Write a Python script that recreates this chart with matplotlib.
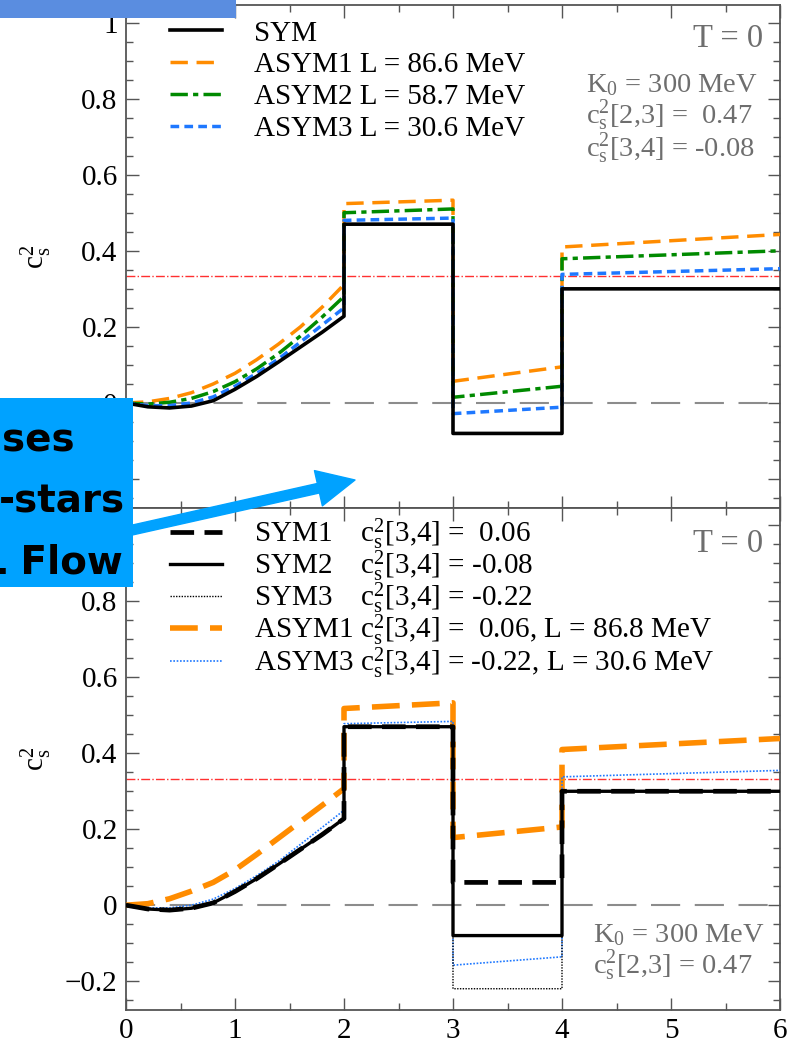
import matplotlib
matplotlib.use('Agg')
import matplotlib.pyplot as plt
from matplotlib.patches import Rectangle, FancyArrowPatch
from matplotlib.ticker import MultipleLocator, FuncFormatter

plt.rcParams['font.family'] = ['Liberation Serif', 'DejaVu Serif']
plt.rcParams['mathtext.fontset'] = 'custom'
plt.rcParams['mathtext.rm'] = 'Liberation Serif'
plt.rcParams['mathtext.it'] = 'Liberation Serif:italic'

# ---- data ----
x_soft = [0, 0.2, 0.4, 0.6, 0.8, 1.0, 1.2, 1.4, 1.6, 1.8, 2.0]
x_steps = [2, 3, 3, 4, 4, 6]

# top panel
sym_soft = [0, -0.010, -0.013, -0.008, 0.006, 0.036, 0.070, 0.108, 0.147, 0.186, 0.228]
sym_steps = [0.47, 0.47, -0.08, -0.08, 0.30, 0.30]
asym1_soft = [0, 0.003, 0.012, 0.027, 0.050, 0.078, 0.114, 0.155, 0.200, 0.252, 0.311]
asym1_steps = [0.524, 0.533, 0.057, 0.095, 0.410, 0.443]
asym2_soft = [0, -0.003, 0.002, 0.012, 0.030, 0.056, 0.090, 0.130, 0.176, 0.226, 0.280]
asym2_steps = [0.500, 0.510, 0.015, 0.044, 0.379, 0.400]
asym3_soft = [0, -0.007, -0.007, 0.000, 0.016, 0.044, 0.078, 0.116, 0.160, 0.205, 0.250]
asym3_steps = [0.480, 0.486, -0.028, -0.011, 0.338, 0.353]

# bottom panel
sym1_steps = [0.47, 0.47, 0.06, 0.06, 0.30, 0.30]
sym2_steps = [0.47, 0.47, -0.08, -0.08, 0.30, 0.30]
sym3_steps = [0.47, 0.47, -0.22, -0.22, 0.30, 0.30]
b_asym1_soft = [0, 0.004, 0.017, 0.037, 0.060, 0.093, 0.134, 0.177, 0.220, 0.263, 0.307]
b_asym1_steps = [0.518, 0.533, 0.178, 0.206, 0.410, 0.439]
b_asym3_soft = [0, -0.007, -0.007, 0.000, 0.016, 0.044, 0.078, 0.116, 0.160, 0.205, 0.250]
b_asym3_steps = [0.478, 0.484, -0.158, -0.136, 0.338, 0.355]

conformal = 1.0 / 3.0

xs = x_soft + x_steps

W, H = 788, 1045
fig = plt.figure(figsize=(W / 100, H / 100), dpi=100)


def px(x, y):
    return x / W, 1 - y / H


ax1 = fig.add_axes([126 / W, 1 - 508 / H, 654 / W, 503 / H])
ax2 = fig.add_axes([126 / W, 1 - 1010 / H, 654 / W, 502 / H])

orange = '#ff8c00'
green = '#008a00'
blue = '#1e78ff'
gray_txt = '#6e6e6e'


def fmt(v, pos):
    s = '%g' % round(v, 3)
    return s.replace('-', '\u2212')


for ax in (ax1, ax2):
    ax.set_xlim(0, 6)
    ax.set_ylim(-0.276, 1.046)
    ax.axhline(0, color='#8c8c8c', lw=1.5, dashes=(14, 7), zorder=1)
    ax.axhline(conformal, color='#ff3030', lw=1.0, ls='-.', zorder=1)
    ax.xaxis.set_major_locator(MultipleLocator(1))
    ax.xaxis.set_minor_locator(MultipleLocator(0.5))
    ax.yaxis.set_major_locator(MultipleLocator(0.2))
    ax.yaxis.set_minor_locator(MultipleLocator(0.05))
    ax.yaxis.set_major_formatter(FuncFormatter(fmt))
    ax.tick_params(which='both', direction='in', top=True, right=True,
                   color='#555555', width=1.0, labelsize=21, pad=6)
    ax.tick_params(which='major', length=9)
    ax.tick_params(which='minor', length=5)
    for sp in ax.spines.values():
        sp.set_color('#555555')
        sp.set_linewidth(1.3)
    ax.set_ylabel(r'c$_\mathrm{s}^2$', fontsize=21)
    ax.yaxis.set_label_coords(-0.11, 0.5)

ax1.tick_params(labelbottom=False)

# top panel curves
ax1.plot(xs, asym1_soft + asym1_steps, color=orange, lw=2.5, dashes=(5, 2.5),
         label='ASYM1 L = 86.6 MeV', zorder=3)
ax1.plot(xs, asym2_soft + asym2_steps, color=green, lw=2.5, dashes=(5, 1.5, 1.5, 1.5),
         label='ASYM2 L = 58.7 MeV', zorder=3)
ax1.plot(xs, asym3_soft + asym3_steps, color=blue, lw=2.5, dashes=(2.5, 1.5),
         label='ASYM3 L = 30.6 MeV', zorder=3)
ax1.plot(xs, sym_soft + sym_steps, color='black', lw=2.6, label='SYM', zorder=4)

h, l = ax1.get_legend_handles_labels()
order = [3, 0, 1, 2]
ax1.legend([h[i] for i in order], [l[i] for i in order], loc='upper left',
           bbox_to_anchor=(0.067, 0.970), frameon=False, fontsize=21,
           borderpad=0, borderaxespad=0, handlelength=1.8, handletextpad=1.1,
           labelspacing=0.19)

ax1.text(0.974, 0.9165, 'T = 0', transform=ax1.transAxes, ha='right',
         va='baseline', fontsize=23.5, color=gray_txt)
ax1.text(0.703, 0.827, r'K$_0$ = 300 MeV', transform=ax1.transAxes,
         va='baseline', fontsize=20.5, color=gray_txt)
ax1.text(0.703, 0.765, r'c$_\mathrm{s}^2$[2,3] =  0.47', transform=ax1.transAxes,
         va='baseline', fontsize=20.5, color=gray_txt)
ax1.text(0.703, 0.700, r'c$_\mathrm{s}^2$[3,4] = -0.08', transform=ax1.transAxes,
         va='baseline', fontsize=20.5, color=gray_txt)

# bottom panel curves
l_a1, = ax2.plot(xs, b_asym1_soft + b_asym1_steps, color=orange, lw=4.0,
                 dashes=(5, 2.2), zorder=3)
l_a3, = ax2.plot(xs, b_asym3_soft + b_asym3_steps, color=blue, lw=1.2,
                 dashes=(1, 1), zorder=3.5)
l_s1, = ax2.plot(xs, sym_soft + sym1_steps, color='black', lw=3.4,
                 dashes=(5, 2.2), zorder=4)
l_s3, = ax2.plot(xs, sym_soft + sym3_steps, color='black', lw=1.0,
                 dashes=(1, 1), zorder=4)
l_s2, = ax2.plot(xs, sym_soft + sym2_steps, color='black', lw=2.4, zorder=5)

cs = r'c$_\mathrm{s}^2$'
ax2.legend([l_s1, l_s2, l_s3, l_a1, l_a3],
           ['SYM1    ' + cs + '[3,4] =  0.06',
            'SYM2    ' + cs + '[3,4] = -0.08',
            'SYM3    ' + cs + '[3,4] = -0.22',
            'ASYM1 ' + cs + '[3,4] =  0.06, L = 86.8 MeV',
            'ASYM3 ' + cs + '[3,4] = -0.22, L = 30.6 MeV'],
           loc='upper left', bbox_to_anchor=(0.067, 0.984), frameon=False,
           fontsize=21, borderpad=0, borderaxespad=0, handlelength=1.8,
           handletextpad=1.1, labelspacing=-0.11)

ax2.text(0.974, 0.912, 'T = 0', transform=ax2.transAxes, ha='right',
         va='baseline', fontsize=23.5, color=gray_txt)
ax2.text(0.714, 0.135, r'K$_0$ = 300 MeV', transform=ax2.transAxes,
         va='baseline', fontsize=20.5, color=gray_txt)
ax2.text(0.714, 0.074, r'c$_\mathrm{s}^2$[2,3] = 0.47', transform=ax2.transAxes,
         va='baseline', fontsize=20.5, color=gray_txt)

# slide overlay: blue label box, top bar and arrow
box_col = '#00a2ff'
bar = Rectangle(px(0, 18), 236 / W, 18 / H, transform=fig.transFigure,
                facecolor='#5a8de0', edgecolor='none', zorder=20)
fig.add_artist(bar)
box = Rectangle(px(0, 587), 133 / W, 189 / H, transform=fig.transFigure,
                facecolor=box_col, edgecolor='none', zorder=20)
fig.add_artist(box)
for s, xx, yy in [('ses', 2, 452), ('-stars', -1, 512), ('L Flow', -18, 573)]:
    t = fig.text(*px(xx, yy), s, family='DejaVu Sans', weight='bold',
                 fontsize=28, color='black', va='baseline', ha='left',
                 zorder=21)
    t.set_clip_path(box)

arrow = FancyArrowPatch(px(128, 531), px(355, 480), transform=fig.transFigure,
                        arrowstyle='simple,head_length=27,head_width=26,tail_width=7',
                        mutation_scale=1, color=box_col, shrinkA=0, shrinkB=0,
                        zorder=19)
fig.add_artist(arrow)

fig.savefig('out.png', dpi=100)
